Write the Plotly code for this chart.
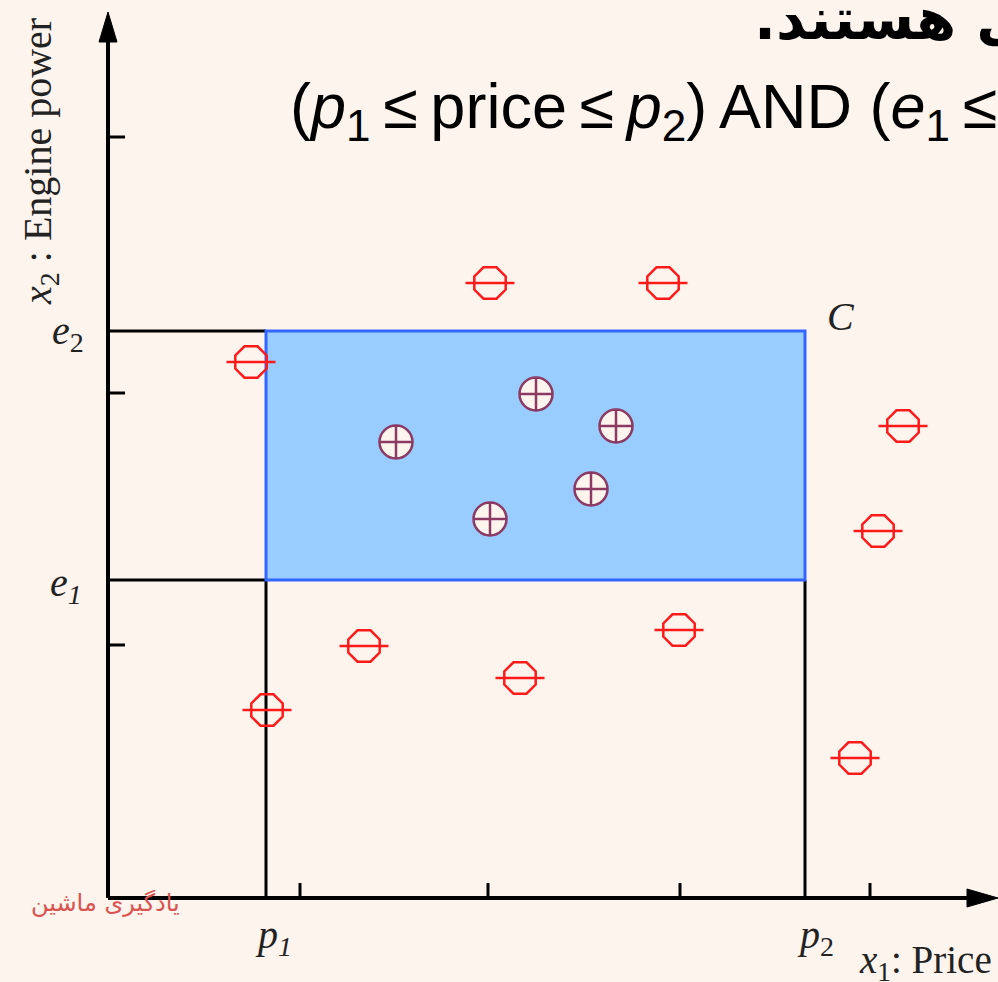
import plotly.graph_objects as go

# ---------------- data (arbitrary units, origin at the axis intersection) ----------------
p1, p2 = 158, 697            # price bounds of rectangle C
e1, e2 = 318, 567            # engine-power bounds of rectangle C
x_ticks = [192, 380, 572, 762]
y_ticks = [253, 505, 761]
x_max, y_max = 890, 886      # arrow tips

neg_x = [382, 555, 143, 795, 770, 256, 571, 412, 159, 747]
neg_y = [615, 615, 536, 472, 367, 252, 268, 220, 188, 140]
pos_x = [288, 428, 508, 483, 382]
pos_y = [456, 504, 472, 409, 379]

# ---------------- style ----------------
W, H = 998, 982
BG = "#FDF4EE"
RED = "#FF1A1A"
PURPLE = "#8C3A64"
RECT_FILL = "#99CCFF"
RECT_LINE = "#3366FF"
SERIF = "Liberation Serif"
SANS = "Liberation Sans"

fig = go.Figure()

shapes = []
def seg(x0, y0, x1, y1, w=3, color="black"):
    shapes.append(dict(type="line", xref="x", yref="y", x0=x0, y0=y0, x1=x1, y1=y1,
                       line=dict(color=color, width=w), layer="below"))

# boundary lines
seg(0, e2, p1, e2)
seg(0, e1, p1, e1)
seg(p1, 0, p1, e1)
seg(p2, 0, p2, e1)
# rectangle C
shapes.append(dict(type="rect", xref="x", yref="y", x0=p1, y0=e1, x1=p2, y1=e2,
                   fillcolor=RECT_FILL, line=dict(color=RECT_LINE, width=3), layer="below"))
# ticks
for t in x_ticks:
    seg(t, 0, t, 15)
for t in y_ticks:
    seg(0, t, 17, t)
# axes
seg(0, 0, 0, y_max - 28, w=4)
seg(0, 0, x_max - 28, 0, w=4)
shapes.append(dict(type="path", xref="x", yref="y",
                   path=f"M -9,{y_max-30} L 0,{y_max} L 9,{y_max-30} Z",
                   fillcolor="black", line=dict(color="black", width=1), layer="below"))
shapes.append(dict(type="path", xref="x", yref="y",
                   path=f"M {x_max-31},-9 L {x_max},0 L {x_max-31},9 Z",
                   fillcolor="black", line=dict(color="black", width=1), layer="below"))

# negative examples
fig.add_trace(go.Scatter(x=neg_x, y=neg_y, mode="markers", hoverinfo="skip",
                         marker=dict(symbol="octagon-open", size=34, color=RED,
                                     line=dict(color=RED, width=2.5))))
fig.add_trace(go.Scatter(x=neg_x, y=neg_y, mode="markers", hoverinfo="skip",
                         marker=dict(symbol="line-ew-open", size=35, color=RED,
                                     line=dict(color=RED, width=2.5))))
# positive examples
fig.add_trace(go.Scatter(x=pos_x, y=pos_y, mode="markers", hoverinfo="skip",
                         marker=dict(symbol="circle-cross", size=33, color=BG,
                                     line=dict(color=PURPLE, width=2.5))))

anns = []
def ann(text, xp, yp, size, family, color="black", xanchor="center", yanchor="middle", angle=0):
    anns.append(dict(text=text, x=xp / W, y=1 - yp / H, xref="paper", yref="paper",
                     showarrow=False, xanchor=xanchor, yanchor=yanchor, textangle=angle,
                     font=dict(size=size, family=family, color=color)))

ann("<b>خودروهای خانوادگی هستند.\u200f</b>", 752, 20, 58, "DejaVu Sans", xanchor="left")
ann("(<i>p</i><sub>1</sub>\u2009≤\u2009price\u2009≤\u2009<i>p</i><sub>2</sub>)", 288, 110, 63, SANS, xanchor="left")
ann("AND (<i>e</i><sub>1</sub>\u2009≤\u2009engine power\u2009≤\u2009<i>e</i><sub>2</sub>)", 717, 110, 63, SANS, xanchor="left")

ann("<i>e</i><sub>2</sub>", 68, 333, 40, SERIF, color="#222")
ann("<i>e</i><sub><i>1</i></sub>", 66, 585, 40, SERIF, color="#222")
ann("<i>p</i><sub><i>1</i></sub>", 273, 937, 40, SERIF, color="#222")
ann("<i>p</i><sub>2</sub>", 815, 937, 40, SERIF, color="#222")
ann("<i>C</i>", 841, 317, 40, SERIF, color="#222")
ann("<i>x</i><sub>1</sub>: Price", 857, 962, 39, SERIF, color="#222", xanchor="left")
ann("<i>x</i><sub>2</sub> : Engine power", 40, 162, 40, SERIF, color="#222", angle=-90)
ann("یادگیری ماشین", 105, 903, 24, "DejaVu Sans", color="#D9534F")

fig.update_layout(
    width=W, height=H, margin=dict(l=0, r=0, t=0, b=0),
    paper_bgcolor=BG, plot_bgcolor=BG, showlegend=False,
    xaxis=dict(range=[-108, W - 108], visible=False, fixedrange=True),
    yaxis=dict(range=[898 - H, 898], visible=False, fixedrange=True),
    shapes=shapes, annotations=anns,
)

fig.write_html("out.html", config={"displayModeBar": False},
               post_script="document.body.style.margin='0';document.body.style.overflow='hidden';")
